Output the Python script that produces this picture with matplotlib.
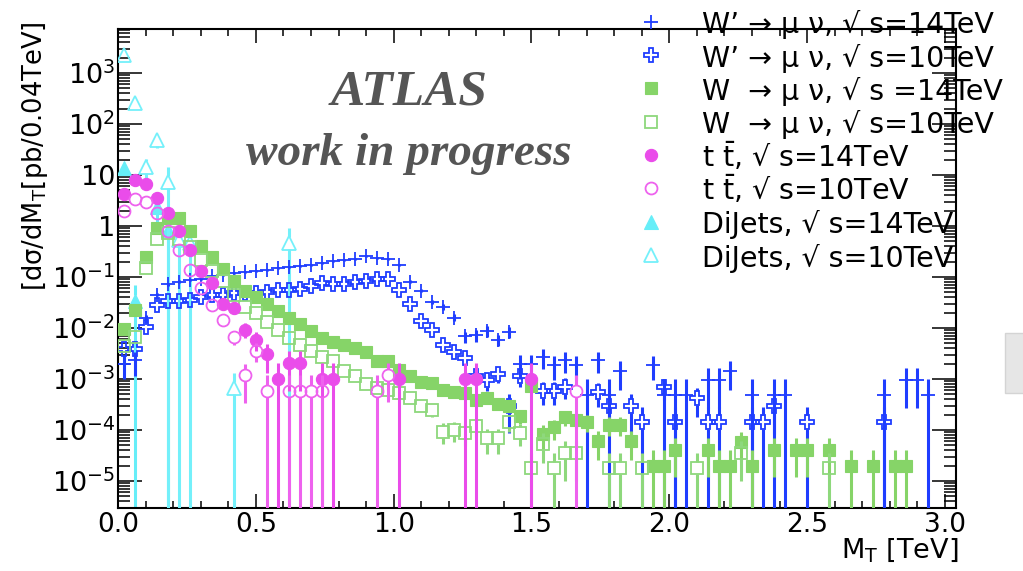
import numpy as np
import matplotlib
matplotlib.use("Agg")
import matplotlib.pyplot as plt
from matplotlib.lines import Line2D
from matplotlib.patches import Rectangle
from matplotlib.ticker import MultipleLocator, LogLocator, FixedLocator, FixedFormatter, NullFormatter

plt.rcParams['font.family'] = ['DejaVu Sans']
plt.rcParams['mathtext.fontset'] = 'dejavusans'

# ---------------- data (M_T bin centres in TeV, dsigma/dM_T in pb/0.04TeV, relative errors) -------------
wp14_mt = [0.02, 0.06, 0.10, 0.14, 0.18, 0.22, 0.26, 0.30, 0.34, 0.38,
           0.42, 0.46, 0.50, 0.54, 0.58, 0.62, 0.66, 0.70, 0.74, 0.78,
           0.82, 0.86, 0.90, 0.94, 0.98, 1.02, 1.06, 1.10, 1.14, 1.18,
           1.22, 1.26, 1.30, 1.34, 1.38, 1.42, 1.46, 1.50, 1.54, 1.58,
           1.62, 1.66, 1.70, 1.74, 1.78, 1.82,
           1.94, 1.98, 2.02, 2.06, 2.14, 2.18, 2.22, 2.30, 2.38, 2.42, 2.78, 2.86, 2.90, 2.94]
wp14_val = [2.0e-3, 2.3e-3, 1.55e-2, 4.5e-2, 7.2e-2, 8.1e-2, 8.7e-2, 9.1e-2, 0.102, 0.110,
            0.120, 0.126, 0.132, 0.138, 0.148, 0.155, 0.166, 0.174, 0.186, 0.204,
            0.214, 0.224, 0.257, 0.234, 0.224, 0.174, 0.081, 0.054, 0.032, 0.026,
            0.016, 6.8e-3, 7.2e-3, 8.7e-3, 5.8e-3, 8.5e-3, 2.0e-3, 1.95e-3, 2.75e-3, 1.9e-3,
            2.35e-3, 1.9e-3, 4.9e-4, 2.35e-3, 4.9e-4, 1.45e-3,
            1.9e-3, 4.9e-4, 4.9e-4, 4.9e-4, 9.5e-4, 9.5e-4, 1.45e-3, 4.9e-4, 4.9e-4, 4.9e-4, 4.9e-4, 9.5e-4, 9.5e-4, 4.9e-4]
wp14_rel = [0.5, 0.5, 0.18, 0.08, 0.06, 0.06, 0.06, 0.06, 0.06, 0.06,
            0.05, 0.05, 0.05, 0.05, 0.05, 0.05, 0.05, 0.05, 0.05, 0.05,
            0.05, 0.05, 0.05, 0.05, 0.05, 0.05, 0.07, 0.08, 0.10, 0.12,
            0.16, 0.25, 0.25, 0.25, 0.25, 0.25, 0.5, 0.5, 0.42, 0.5,
            0.45, 0.5, 1.0, 0.45, 1.0, 0.58,
            0.5, 1.0, 1.0, 1.0, 0.71, 0.71, 0.58, 1.0, 1.0, 1.0, 1.0, 0.71, 0.71, 1.0]

wp10_mt = [0.02, 0.06, 0.10, 0.14, 0.18, 0.22, 0.26, 0.30, 0.34, 0.38,
           0.42, 0.46, 0.50, 0.54, 0.58, 0.62, 0.66, 0.70, 0.74, 0.78,
           0.82, 0.86, 0.90, 0.94, 0.98, 1.02, 1.06, 1.10, 1.14, 1.18,
           1.22, 1.26, 1.30, 1.34, 1.38, 1.42, 1.46,
           1.54, 1.58, 1.62, 1.74, 1.78, 1.86, 1.90, 1.98, 2.02, 2.10, 2.14, 2.18,
           2.30, 2.34, 2.38, 2.50, 2.78]
wp10_val = [3.9e-3, 3.9e-3, 1.02e-2, 2.8e-2, 3.3e-2, 3.3e-2, 3.6e-2, 4.1e-2, 4.5e-2, 4.5e-2,
            4.8e-2, 4.8e-2, 4.9e-2, 5.1e-2, 5.6e-2, 5.6e-2, 5.75e-2, 6.5e-2, 7.6e-2, 7.2e-2,
            7.2e-2, 8.1e-2, 8.5e-2, 9.3e-2, 9.3e-2, 5.6e-2, 2.95e-2, 1.38e-2, 9.1e-3, 4.7e-3,
            3.3e-3, 2.6e-3, 1.12e-3, 9.5e-4, 1.26e-3, 2.95e-4, 1.12e-3,
            5.9e-4, 5.9e-4, 7.1e-4, 5.6e-4, 2.9e-4, 2.9e-4, 1.4e-4, 6.9e-4, 1.4e-4, 4.3e-4, 1.4e-4, 1.4e-4,
            1.4e-4, 1.4e-4, 2.9e-4, 1.4e-4, 1.4e-4]
wp10_rel = [0.2, 0.2, 0.12, 0.06, 0.06, 0.06, 0.06, 0.06, 0.06, 0.06,
            0.06, 0.06, 0.06, 0.06, 0.06, 0.06, 0.06, 0.06, 0.06, 0.06,
            0.06, 0.06, 0.06, 0.06, 0.06, 0.07, 0.09, 0.13, 0.15, 0.17,
            0.2, 0.23, 0.35, 0.38, 0.33, 0.71, 0.38,
            0.48, 0.48, 0.44, 0.49, 0.71, 0.71, 1.0, 0.45, 1.0, 0.58, 1.0, 1.0,
            1.0, 1.0, 0.71, 1.0, 1.0]

w14_mt = [0.02, 0.06, 0.10, 0.14, 0.18, 0.22, 0.26, 0.30, 0.34, 0.38,
          0.42, 0.46, 0.50, 0.54, 0.58, 0.62, 0.66, 0.70, 0.74, 0.78,
          0.82, 0.86, 0.90, 0.94, 0.98, 1.02, 1.06, 1.10, 1.14, 1.18,
          1.22, 1.26, 1.30, 1.34, 1.38, 1.42, 1.46, 1.50, 1.54, 1.58,
          1.62, 1.66, 1.70, 1.74, 1.78, 1.82, 1.86,
          1.94, 1.98, 2.02, 2.14, 2.18, 2.22, 2.26, 2.30, 2.38, 2.46, 2.50, 2.58, 2.66, 2.74, 2.82, 2.86]
w14_val = [9.5e-3, 2.24e-2, 0.25, 0.93, 1.45, 1.41, 0.78, 0.40, 0.25, 0.141,
           8.5e-2, 5.4e-2, 4.0e-2, 3.0e-2, 2.1e-2, 1.55e-2, 1.2e-2, 8.7e-3, 6.3e-3, 5.4e-3,
           4.7e-3, 4.0e-3, 3.3e-3, 2.2e-3, 2.2e-3, 1.5e-3, 1.12e-3, 8.9e-4, 8.5e-4, 6.0e-4,
           5.6e-4, 5.25e-4, 3.9e-4, 4.2e-4, 3.3e-4, 2.9e-4, 1.9e-4, 7.2e-4, 8.3e-5, 1.12e-4,
           1.8e-4, 1.6e-4, 1.45e-4, 6.0e-5, 1.26e-4, 1.26e-4, 6.0e-5,
           2.0e-5, 2.0e-5, 4.1e-5, 4.1e-5, 2.0e-5, 2.0e-5, 5.9e-5, 2.0e-5, 4.1e-5, 4.1e-5, 4.1e-5, 4.1e-5,
           2.0e-5, 2.0e-5, 2.0e-5, 2.0e-5]
w14_rel = [0.05, 0.04, 0.03, 0.03, 0.03, 0.03, 0.03, 0.03, 0.03, 0.03,
           0.03, 0.03, 0.03, 0.03, 0.03, 0.03, 0.03, 0.03, 0.07, 0.07,
           0.07, 0.07, 0.07, 0.07, 0.07, 0.12, 0.12, 0.12, 0.12, 0.18,
           0.18, 0.18, 0.23, 0.23, 0.23, 0.23, 0.32, 0.17, 0.49, 0.42,
           0.33, 0.35, 0.37, 0.58, 0.4, 0.4, 0.58,
           1.0, 1.0, 0.71, 0.71, 1.0, 1.0, 0.58, 1.0, 0.71, 0.71, 0.71, 0.71,
           1.0, 1.0, 1.0, 1.0]

w10_mt = [0.02, 0.06, 0.10, 0.14, 0.18, 0.22, 0.26, 0.30, 0.34, 0.38,
          0.42, 0.46, 0.50, 0.54, 0.58, 0.62, 0.66, 0.70, 0.74, 0.78,
          0.82, 0.86, 0.90, 0.94, 0.98, 1.02, 1.06, 1.10, 1.14, 1.18,
          1.22, 1.26, 1.30, 1.34, 1.38, 1.42, 1.46, 1.50, 1.54, 1.58,
          1.62, 1.66, 1.78, 1.82, 1.90, 2.10, 2.26, 2.58]
w10_val = [4.5e-3, 6.5e-3, 0.148, 0.55, 0.71, 0.56, 0.38, 0.214, 0.132, 8.3e-2,
           4.5e-2, 2.6e-2, 1.95e-2, 1.32e-2, 9.1e-3, 6.3e-3, 4.7e-3, 3.5e-3, 2.75e-3, 2.2e-3,
           1.45e-3, 1.12e-3, 7.9e-4, 6.6e-4, 6.0e-4, 5.4e-4, 4.2e-4, 3.0e-4, 2.45e-4, 9.3e-5,
           1.02e-4, 8.9e-5, 1.2e-4, 6.9e-5, 6.9e-5, 1.4e-4, 8.9e-5, 1.8e-5, 5.4e-5, 1.8e-5,
           3.5e-5, 3.5e-5, 1.8e-5, 1.8e-5, 1.8e-5, 1.8e-5, 3.5e-5, 1.8e-5]
w10_rel = [0.06, 0.06, 0.05, 0.05, 0.05, 0.05, 0.05, 0.05, 0.05, 0.05,
           0.05, 0.05, 0.05, 0.05, 0.05, 0.05, 0.05, 0.05, 0.05, 0.05,
           0.05, 0.13, 0.15, 0.16, 0.17, 0.18, 0.2, 0.25, 0.27, 0.44,
           0.42, 0.45, 0.39, 0.51, 0.51, 0.36, 0.45, 1.0, 0.58, 1.0,
           0.71, 0.71, 1.0, 1.0, 1.0, 1.0, 0.71, 1.0]

tt14_mt = [0.02, 0.06, 0.10, 0.14, 0.18, 0.22, 0.26, 0.30, 0.34, 0.38,
           0.42, 0.46, 0.50, 0.54, 0.58, 0.62, 0.66,
           0.74, 0.78, 1.02, 1.26, 1.30, 1.50]
tt14_val = [4.3, 7.8, 6.5, 3.5, 1.78, 0.79, 0.34, 0.132, 7.6e-2, 2.95e-2,
            2.45e-2, 9.3e-3, 5.9e-3, 3.1e-3, 1.02e-3, 2.04e-3, 2.04e-3,
            1.02e-3, 1.02e-3, 1.02e-3, 1.02e-3, 1.02e-3, 1.02e-3]
tt14_rel = [0.03, 0.03, 0.03, 0.03, 0.04, 0.05, 0.06, 0.09, 0.12, 0.19,
            0.2, 0.33, 0.41, 0.58, 1.0, 0.71, 0.71,
            1.0, 1.0, 1.0, 1.0, 1.0, 1.0]

tt10_mt = [0.02, 0.06, 0.10, 0.14, 0.18, 0.22, 0.26, 0.30, 0.34, 0.38,
           0.42, 0.46, 0.50, 0.54, 0.62, 0.66, 0.70, 0.74, 0.94, 0.98, 1.66]
tt10_val = [2.0, 3.3, 2.9, 1.78, 0.81, 0.34, 0.138, 6.0e-2, 2.8e-2, 1.45e-2,
            6.6e-3, 1.17e-3, 3.6e-3, 5.9e-4, 5.9e-4, 5.9e-4, 5.9e-4, 5.9e-4, 5.9e-4, 1.2e-3, 5.9e-4]
tt10_rel = [0.03, 0.03, 0.03, 0.03, 0.04, 0.05, 0.07, 0.1, 0.15, 0.2,
            0.3, 0.71, 0.41, 1.0, 1.0, 1.0, 1.0, 1.0, 1.0, 0.71, 1.0]

dj14_mt = [0.02, 0.06, 0.14, 0.18]
dj14_val = [13.5, 3.4e-2, 2.4, 0.83]
dj14_rel = [0.2, 1.0, 0.5, 1.0]

dj10_mt = [0.02, 0.06, 0.10, 0.14, 0.18, 0.22, 0.26, 0.42, 0.62]
dj10_val = [2240.0, 257.0, 14.5, 49.0, 7.1, 0.54, 0.46, 6.6e-4, 0.46]
dj10_rel = [0.1, 0.2, 0.4, 0.3, 1.0, 1.0, 1.0, 1.0, 1.0]

legend_labels = ['W’ → μ ν, √ s=14TeV',
                 'W’ → μ ν, √ s=10TeV',
                 'W  → μ ν, √ s =14TeV',
                 'W  → μ ν, √ s=10TeV',
                 r't $\mathregular{\bar{t}}$, √ s=14TeV',
                 r't $\mathregular{\bar{t}}$, √ s=10TeV',
                 'DiJets, √ s=14TeV',
                 'DiJets, √ s=10TeV']

xtick_vals = [0.0, 0.5, 1.0, 1.5, 2.0, 2.5, 3.0]
xtick_labels = ['0.0', '0.5', '1.0', '1.5', '2.0', '2.5', '3.0']
ytick_vals = [1e-5, 1e-4, 1e-3, 1e-2, 1e-1, 1, 10, 1e2, 1e3]
ytick_labels = [r'$\mathdefault{10^{-5}}$', r'$\mathdefault{10^{-4}}$', r'$\mathdefault{10^{-3}}$',
                r'$\mathdefault{10^{-2}}$', r'$\mathdefault{10^{-1}}$', '1', '10',
                r'$\mathdefault{10^{2}}$', r'$\mathdefault{10^{3}}$']

# ---------------- styles ----------------
blue = '#1f3dff'
green = '#86d468'
green_o = '#8ed87c'
mag = '#ea4cea'
mag_o = '#ee62ee'
cyan = '#66eef8'
cyan_o = '#74f0fa'

# legend order; 'layer' gives drawing order (DiJets lowest, ttbar on top)
series = [
    dict(mt=wp14_mt, val=wp14_val, rel=wp14_rel, marker='+', ms=9.5, mfc='none', mec=blue, mew=1.3, color=blue, gap=0, layer=2),
    dict(mt=wp10_mt, val=wp10_val, rel=wp10_rel, marker='P', ms=10, mfc='none', mec=blue, mew=1.3, color=blue, gap=7, layer=3),
    dict(mt=w14_mt, val=w14_val, rel=w14_rel, marker='s', ms=8.5, mfc=green, mec=green, mew=0.8, color=green, gap=6, layer=4),
    dict(mt=w10_mt, val=w10_val, rel=w10_rel, marker='s', ms=8.2, mfc='none', mec=green_o, mew=1.3, color=green_o, gap=6, layer=5),
    dict(mt=tt14_mt, val=tt14_val, rel=tt14_rel, marker='o', ms=8.8, mfc=mag, mec=mag, mew=0.8, color=mag, gap=6, layer=6),
    dict(mt=tt10_mt, val=tt10_val, rel=tt10_rel, marker='o', ms=8.6, mfc='none', mec=mag_o, mew=1.3, color=mag_o, gap=6, layer=7),
    dict(mt=dj14_mt, val=dj14_val, rel=dj14_rel, marker='^', ms=9.5, mfc=cyan, mec=cyan, mew=0.8, color=cyan, gap=6, layer=0),
    dict(mt=dj10_mt, val=dj10_val, rel=dj10_rel, marker='^', ms=9.5, mfc='none', mec=cyan_o, mew=1.3, color=cyan_o, gap=6, layer=1),
]

W, H = 1023, 571
fig = plt.figure(figsize=(W / 100, H / 100), dpi=100)
fig.patch.set_facecolor('white')

ax_l, ax_t, ax_r, ax_b = 118, 29, 956, 508
ax = fig.add_axes([ax_l / W, 1 - ax_b / H, (ax_r - ax_l) / W, (ax_b - ax_t) / H])
ax.set_yscale('log')
ymin, ymax = 10 ** -5.53, 10 ** 3.86
ax.set_xlim(0, 3.04)
ax.set_ylim(ymin, ymax)

dex_per_px = (np.log10(ymax) - np.log10(ymin)) / (ax_b - ax_t)

for s in series:
    x = np.array(s['mt'], dtype=float)
    v = np.array(s['val'], dtype=float)
    r = np.array(s['rel'], dtype=float)
    lo = v * (1 - r)
    lo = np.where(lo <= 0, ymin * 0.3, lo)
    hi = v * (1 + r)
    g = 10 ** (s['gap'] * dex_per_px)
    z = 2 + 2 * s['layer']
    m = lo < v / g
    if m.any():
        ax.vlines(x[m], lo[m], (v / g)[m], colors=s['color'], lw=2.2, zorder=z)
    m = hi > v * g
    if m.any():
        ax.vlines(x[m], (v * g)[m], hi[m], colors=s['color'], lw=2.2, zorder=z)
    ax.plot(x, v, ls='none', marker=s['marker'], ms=s['ms'], mfc=s['mfc'], mec=s['mec'],
            mew=s['mew'], zorder=z + 1)

# ticks
ax.xaxis.set_major_locator(FixedLocator(xtick_vals))
ax.xaxis.set_major_formatter(FixedFormatter(xtick_labels))
ax.xaxis.set_minor_locator(MultipleLocator(0.1))
ax.yaxis.set_major_locator(FixedLocator(ytick_vals))
ax.yaxis.set_major_formatter(FixedFormatter(ytick_labels))
ax.yaxis.set_minor_locator(LogLocator(base=10, subs=np.arange(2, 10), numticks=30))
ax.yaxis.set_minor_formatter(NullFormatter())
ax.tick_params(axis='both', which='both', direction='in', top=True, right=True, width=1.1, color='black')
ax.tick_params(axis='x', which='major', length=10, labelsize=19, pad=3)
ax.tick_params(axis='x', which='minor', length=5)
ax.tick_params(axis='y', which='major', length=17, labelsize=19.5, pad=2)
ax.tick_params(axis='y', which='minor', length=8.5)
for sp in ax.spines.values():
    sp.set_linewidth(1.5)

# axis titles
fig.text(958 / W, 1 - 558 / H, r'M$_{\mathregular{T}}$ [TeV]', fontsize=19.5, ha='right', va='baseline')
fig.text(35 / W, 1 - 156 / H, r'[d$\mathregular{\sigma}$/dM$_{\mathregular{T}}$[pb/0.04TeV]', fontsize=18.5,
         rotation=90, ha='center', va='center')

# ATLAS label
fig.text(409 / W, 1 - 104 / H, 'ATLAS', fontsize=37, family='Liberation Serif', weight='bold',
         style='italic', color='#555555', ha='center', va='baseline')
fig.text(409 / W, 1 - 165 / H, 'work in progress', fontsize=34, family='Liberation Serif', weight='bold',
         style='italic', color='#555555', ha='center', va='baseline')

# legend
for k, (s, lab) in enumerate(zip(series, legend_labels)):
    yk = 21.7 + 33.33 * k
    fig.add_artist(Line2D([651 / W], [1 - yk / H], transform=fig.transFigure, ls='none',
                          marker=s['marker'], ms=s['ms'], mfc=s['mfc'], mec=s['mec'], mew=s['mew']))
    fig.text(702 / W, 1 - (yk + 11.6) / H, lab, fontsize=20.5, ha='left', va='baseline')

# slide background remnant on the right
fig.add_artist(Rectangle((1005 / W, 1 - 393 / H), 20 / W, 60 / H, transform=fig.transFigure,
                         facecolor='#e6e6e6', edgecolor='#d4d4d4', lw=1))

fig.savefig('out.png', dpi=100)
